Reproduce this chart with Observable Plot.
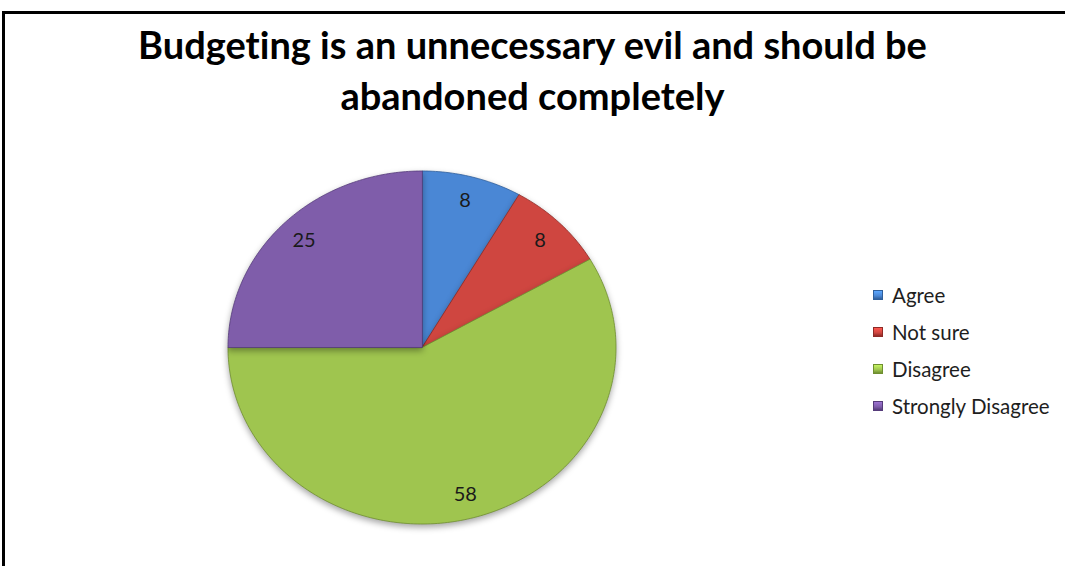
<!DOCTYPE html>
<html><head><meta charset="utf-8">
<script src="https://cdn.jsdelivr.net/npm/d3@7"></script>
<script src="https://cdn.jsdelivr.net/npm/@observablehq/plot@0.6"></script>
<style>
body{margin:0;background:#fff;font-family:Lato,"Open Sans",sans-serif;font-variant-ligatures:none;}
#wrap{position:relative;width:1065px;height:566px;overflow:hidden;background:#fff;}
#frame{position:absolute;left:2px;top:11px;width:1100px;height:620px;border:3px solid #000;box-sizing:border-box;}
#title{position:absolute;left:0;width:1065px;top:19px;text-align:center;font-weight:700;font-size:38px;line-height:51px;color:#000;}
#chart{position:absolute;left:0;top:130px;}
#chart svg g[aria-label="line"]{filter:drop-shadow(0px 3px 3px rgba(0,0,0,0.35));}
#legend{position:absolute;left:873px;top:276px;font-size:20.5px;color:#1e1e1e;}
.row{display:flex;align-items:center;height:37px;}
.sw{width:10px;height:10px;margin-right:9px;box-sizing:border-box;}
</style></head>
<body>
<div id="wrap">
  <div id="frame"></div>
  <div id="title">Budgeting is an unnecessary evil and should be<br>abandoned completely</div>
  <div id="chart"></div>
  <div id="legend"></div>
</div>
<script>
const categories = ["Agree", "Not sure", "Disagree", "Strongly Disagree"];
const values = [8.33, 8.33, 58.33, 25];
const colors = ["#4a87d5", "#cf4640", "#9fc54f", "#7f5daa"];
const strokes = ["#2f5f9c", "#8e2a26", "#6f8f30", "#553b7a"];

const total = d3.sum(values);
let acc = 0;
const slices = categories.map((c, i) => {
  const a0 = acc / total * 2 * Math.PI;
  acc += values[i];
  const a1 = acc / total * 2 * Math.PI;
  return {name: c, value: values[i], a0, a1, i};
});

function slicePoints(s) {
  const pts = [{x: 0, y: 0}];
  const n = Math.max(2, Math.ceil((s.a1 - s.a0) / (Math.PI / 180)));
  for (let k = 0; k <= n; k++) {
    const a = s.a0 + (s.a1 - s.a0) * k / n;
    pts.push({x: Math.sin(a), y: Math.cos(a)});
  }
  return pts;
}

const labelR = 0.86;
const labels = slices.map(s => {
  const m = (s.a0 + s.a1) / 2;
  return {x: labelR * Math.sin(m), y: labelR * Math.cos(m), text: d3.format(".0f")(s.value)};
});

const cy = 217, ry = 176.5, cx = 421.5, rx = 194;
const chart = Plot.plot({
  width: 1065,
  height: 436,
  margin: 0,
  x: {domain: [-1, 1], range: [cx - rx, cx + rx], axis: null},
  y: {domain: [-1, 1], range: [cy + ry, cy - ry], axis: null},
  marks: [
    ...slices.map(s => Plot.line(slicePoints(s), {
      x: "x", y: "y", curve: "linear-closed",
      fill: colors[s.i], stroke: strokes[s.i], strokeWidth: 1, strokeOpacity: 0.8
    })),
    Plot.text(labels, {x: "x", y: "y", text: "text", fontSize: 20, fill: "#1a1a1a", fontFamily: "Lato, sans-serif"})
  ]
});
document.getElementById("chart").appendChild(chart);

const legend = d3.select("#legend");
categories.forEach((c, i) => {
  const row = legend.append("div").attr("class", "row");
  row.append("div").attr("class", "sw")
    .style("background", `linear-gradient(180deg, ${d3.color(colors[i]).brighter(0.6)} 0%, ${colors[i]} 60%, ${strokes[i]} 100%)`)
    .style("border", `1px solid ${strokes[i]}`);
  row.append("span").text(c);
});
</script>
</body></html>
